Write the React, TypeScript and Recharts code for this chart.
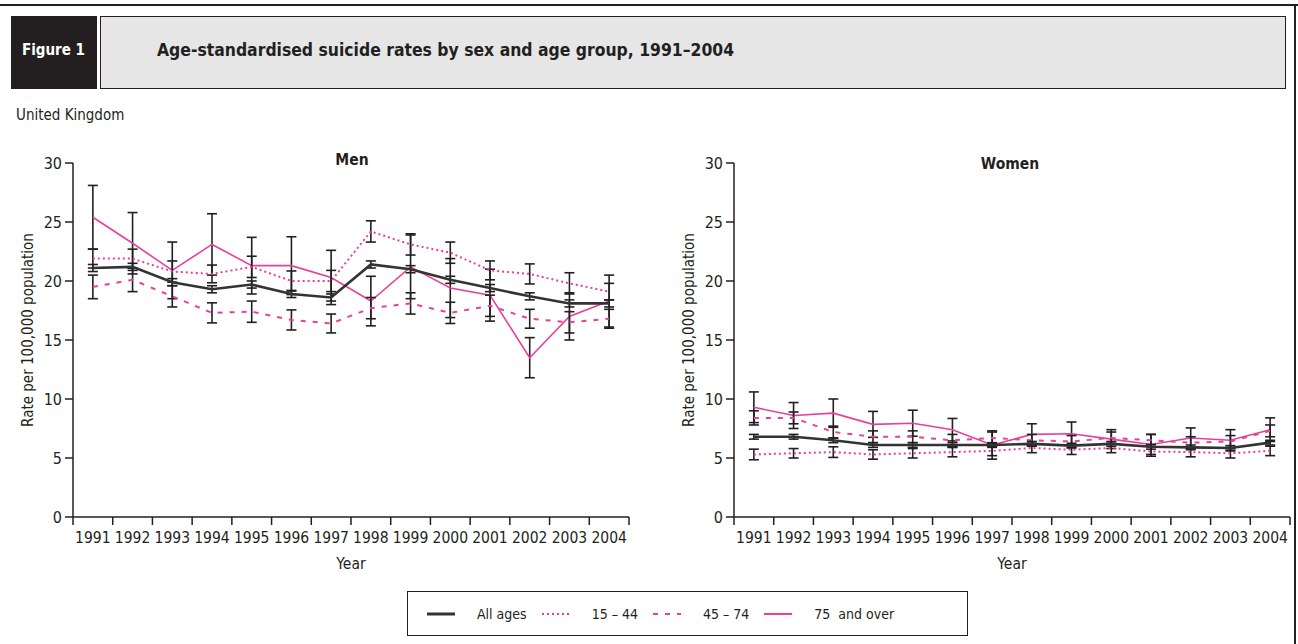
import React from 'react';
import { LineChart, Line, XAxis, YAxis, ErrorBar, Label } from 'recharts';

// ---------- data ----------
const years = [1991, 1992, 1993, 1994, 1995, 1996, 1997, 1998, 1999, 2000, 2001, 2002, 2003, 2004];
const yTicks = [0, 5, 10, 15, 20, 25, 30];

const menAllAges = [21.1, 21.2, 19.9, 19.3, 19.7, 18.9, 18.6, 21.4, 21.0, 20.1, 19.4, 18.7, 18.1, 18.1];
const men15to44 = [21.9, 21.9, 20.8, 20.6, 21.2, 20.0, 20.0, 24.2, 23.1, 22.4, 20.9, 20.6, 19.8, 19.1];
const men45to74 = [19.5, 20.1, 18.7, 17.3, 17.4, 16.7, 16.4, 17.7, 18.1, 17.3, 17.9, 16.8, 16.5, 16.8];
const men75plus = [25.4, 23.2, 20.9, 23.1, 21.3, 21.3, 20.3, 18.3, 21.2, 19.4, 18.8, 13.5, 17.0, 18.3];

const menAllAgesErr = [0.3, 0.3, 0.3, 0.3, 0.3, 0.3, 0.3, 0.3, 0.3, 0.3, 0.3, 0.3, 0.3, 0.3];
const men15to44Err = [0.8, 0.8, 0.9, 0.75, 0.9, 0.85, 0.9, 0.9, 0.9, 0.9, 0.8, 0.85, 0.9, 0.7];
const men45to74Err = [1.0, 1.0, 0.9, 0.85, 0.9, 0.85, 0.8, 0.9, 0.9, 0.9, 0.9, 0.8, 0.9, 0.8];
const men75plusErr = [2.7, 2.6, 2.4, 2.6, 2.4, 2.45, 2.3, 2.1, 2.7, 2.5, 2.2, 1.7, 2.0, 2.2];

const womenAllAges = [6.8, 6.8, 6.5, 6.1, 6.1, 6.1, 6.1, 6.2, 6.05, 6.2, 5.95, 5.9, 5.85, 6.3];
const women15to44 = [5.3, 5.4, 5.5, 5.3, 5.4, 5.5, 5.6, 5.85, 5.7, 5.85, 5.55, 5.5, 5.4, 5.6];
const women45to74 = [8.4, 8.4, 7.2, 6.8, 6.8, 6.5, 6.7, 6.5, 6.4, 6.7, 6.5, 6.3, 6.4, 7.3];
const women75plus = [9.3, 8.6, 8.8, 7.85, 7.95, 7.4, 6.1, 7.0, 7.05, 6.6, 6.15, 6.7, 6.5, 7.4];

const womenAllAgesErr = [0.2, 0.2, 0.2, 0.2, 0.2, 0.2, 0.2, 0.2, 0.2, 0.2, 0.2, 0.2, 0.2, 0.2];
const women15to44Err = [0.45, 0.4, 0.45, 0.4, 0.4, 0.4, 0.4, 0.4, 0.4, 0.4, 0.4, 0.4, 0.4, 0.4];
const women45to74Err = [0.6, 0.5, 0.5, 0.5, 0.5, 0.5, 0.5, 0.5, 0.5, 0.5, 0.5, 0.5, 0.5, 0.5];
const women75plusErr = [1.3, 1.1, 1.2, 1.1, 1.1, 0.95, 1.2, 0.9, 1.0, 0.8, 0.85, 0.85, 0.9, 1.0];

const titleText = 'Age-standardised suicide rates by sex and age group, 1991\u20132004';
const figureLabel = 'Figure 1';
const regionLabel = 'United Kingdom';
const yAxisTitle = 'Rate per 100,000 population';
const xAxisTitle = 'Year';

// ---------- style ----------
const INK = '#231f20';
const PINK = '#e8409a';
const FONT = "'Liberation Sans Narrow', 'DejaVu Sans Condensed', 'Arial Narrow', sans-serif";
const Y_AXIS_WIDTH = 60;

const seriesDefs = [
  { key: 'o75', name: '75  and over', color: PINK, width: 1.6, dash: undefined as string | undefined },
  { key: 'y4574', name: '45 \u2013 74', color: PINK, width: 2, dash: '5 7' },
  { key: 'y1544', name: '15 \u2013 44', color: PINK, width: 2, dash: '2 3' },
  { key: 'all', name: 'All ages', color: '#333333', width: 2.6, dash: undefined as string | undefined },
];
const legendOrder = ['all', 'y1544', 'y4574', 'o75'];

function buildRows(
  all: number[], a: number[], b: number[], c: number[],
  allE: number[], aE: number[], bE: number[], cE: number[]
) {
  return years.map((year, i) => ({
    year,
    all: all[i], allErr: allE[i],
    y1544: a[i], y1544Err: aE[i],
    y4574: b[i], y4574Err: bE[i],
    o75: c[i], o75Err: cE[i],
  }));
}

const menRows = buildRows(menAllAges, men15to44, men45to74, men75plus, menAllAgesErr, men15to44Err, men45to74Err, men75plusErr);
const womenRows = buildRows(womenAllAges, women15to44, women45to74, women75plus, womenAllAgesErr, women15to44Err, women45to74Err, women75plusErr);

const YLabel = (props: any) => {
  const vb = props.viewBox || {};
  const cx = vb.x + 15;
  const cy = vb.y + vb.height / 2 - 10;
  return (
    <text
      x={cx}
      y={cy}
      transform={`rotate(-90, ${cx}, ${cy})`}
      textAnchor="middle"
      dominantBaseline="central"
      fontFamily={FONT}
      fontSize={15}
      fill={INK}
    >
      {yAxisTitle}
    </text>
  );
};

// year label centred in its band, with tick marks at the band edges
const makeYearTick = (halfBand: number) => (props: any) => {
  const { x, y, payload, index, visibleTicksCount } = props;
  const last = index === (visibleTicksCount ?? years.length) - 1;
  return (
    <g>
      <line x1={x - halfBand} y1={y} x2={x - halfBand} y2={y + 8} stroke={INK} strokeWidth={1.5} />
      {last && <line x1={x + halfBand} y1={y} x2={x + halfBand} y2={y + 8} stroke={INK} strokeWidth={1.5} />}
      <text x={x} y={y + 15} dy="0.71em" textAnchor="middle" fontFamily={FONT} fontSize={15.5} fill={INK}>
        {payload.value}
      </text>
    </g>
  );
};

function Panel({ rows, left, width, marginLeft, marginRight }: any) {
  const plotWidth = width - marginLeft - marginRight - Y_AXIS_WIDTH;
  const halfBand = plotWidth / years.length / 2;
  const domain = [years[0] - 0.5, years[years.length - 1] + 0.5];
  return (
    <div style={{ position: 'absolute', left, top: 0 }}>
      <LineChart
        width={width}
        height={644}
        data={rows}
        margin={{ top: 163, right: marginRight, bottom: 72, left: marginLeft }}
      >
        <XAxis
          type="number"
          dataKey="year"
          domain={domain}
          ticks={years}
          interval={0}
          tickLine={false}
          tickSize={0}
          tickMargin={0}
          height={55}
          stroke={INK}
          strokeWidth={1.5}
          tick={makeYearTick(halfBand)}
          allowDataOverflow
        >
          <Label
            value={xAxisTitle}
            position="insideBottom"
            offset={3}
            style={{ fontSize: 15.5, fill: INK, fontFamily: FONT }}
          />
        </XAxis>
        <YAxis
          type="number"
          domain={[0, 30]}
          ticks={yTicks}
          interval={0}
          width={Y_AXIS_WIDTH}
          tickSize={8}
          tickMargin={3}
          stroke={INK}
          strokeWidth={1.5}
          tick={{ fontSize: 16, fill: INK, fontFamily: FONT }}
          allowDataOverflow
        >
          <Label content={<YLabel />} />
        </YAxis>
        {seriesDefs.map((s) => (
          <Line
            key={s.key}
            type="linear"
            dataKey={s.key}
            stroke={s.color}
            strokeWidth={s.width}
            strokeDasharray={s.dash}
            dot={false}
            activeDot={false}
            isAnimationActive={false}
          >
            <ErrorBar
              dataKey={`${s.key}Err`}
              direction="y"
              width={5}
              stroke={INK}
              strokeWidth={1.6}
              isAnimationActive={false}
            />
          </Line>
        ))}
      </LineChart>
    </div>
  );
}

function LegendBox() {
  return (
    <div
      style={{
        position: 'absolute',
        left: 407,
        top: 591,
        width: 561,
        height: 45,
        boxSizing: 'border-box',
        border: `1.5px solid ${INK}`,
        display: 'flex',
        alignItems: 'center',
        paddingLeft: 19,
        fontFamily: FONT,
        fontSize: 14,
        color: INK,
      }}
    >
      {legendOrder.map((k) => {
        const s = seriesDefs.find((d) => d.key === k)!;
        return (
          <div key={k} style={{ display: 'flex', alignItems: 'center', marginRight: 15 }}>
            <svg width={28} height={10} style={{ marginRight: 22 }}>
              <line x1={0} y1={5} x2={28} y2={5} stroke={s.color} strokeWidth={s.key === 'all' ? 3 : 2} strokeDasharray={s.dash} />
            </svg>
            <span style={{ whiteSpace: 'pre' }}>{s.name}</span>
          </div>
        );
      })}
    </div>
  );
}

export default function App() {
  return (
    <div style={{ position: 'absolute', left: 0, top: 0, width: 1298, height: 644, background: '#fff', overflow: 'hidden' }}>
      <div style={{ position: 'absolute', left: 0, top: 4, width: 1298, height: 2, background: INK }} />
      <div style={{ position: 'absolute', left: 1294, top: 5, width: 1.5, height: 639, background: INK }} />
      <div
        style={{
          position: 'absolute', left: 11, top: 16, width: 86, height: 73, background: INK,
          color: '#fff', fontFamily: FONT, fontWeight: 700, fontSize: 15, lineHeight: '18px',
          boxSizing: 'border-box', paddingLeft: 11, paddingTop: 25, whiteSpace: 'nowrap',
        }}
      >
        {figureLabel}
      </div>
      <div
        style={{
          position: 'absolute', left: 100, top: 16, width: 1186, height: 73, background: '#e6e6e6',
          border: `1.5px solid ${INK}`, boxSizing: 'border-box', color: INK, fontFamily: FONT,
          fontWeight: 700, fontSize: 17.4, lineHeight: '20px', paddingLeft: 56, paddingTop: 23, whiteSpace: 'nowrap',
        }}
      >
        {titleText}
      </div>
      <div style={{ position: 'absolute', left: 16, top: 106, fontFamily: FONT, fontSize: 15, color: INK, lineHeight: '18px' }}>
        {regionLabel}
      </div>
      <Panel rows={menRows} left={0} width={660} marginLeft={13} marginRight={31} />
      <Panel rows={womenRows} left={660} width={638} marginLeft={14} marginRight={8} />
      <div style={{ position: 'absolute', left: 352, top: 151, transform: 'translateX(-50%)', fontFamily: FONT, fontWeight: 700, fontSize: 15.5, color: INK }}>
        Men
      </div>
      <div style={{ position: 'absolute', left: 1010, top: 155, transform: 'translateX(-50%)', fontFamily: FONT, fontWeight: 700, fontSize: 15.5, color: INK }}>
        Women
      </div>
      <LegendBox />
    </div>
  );
}
